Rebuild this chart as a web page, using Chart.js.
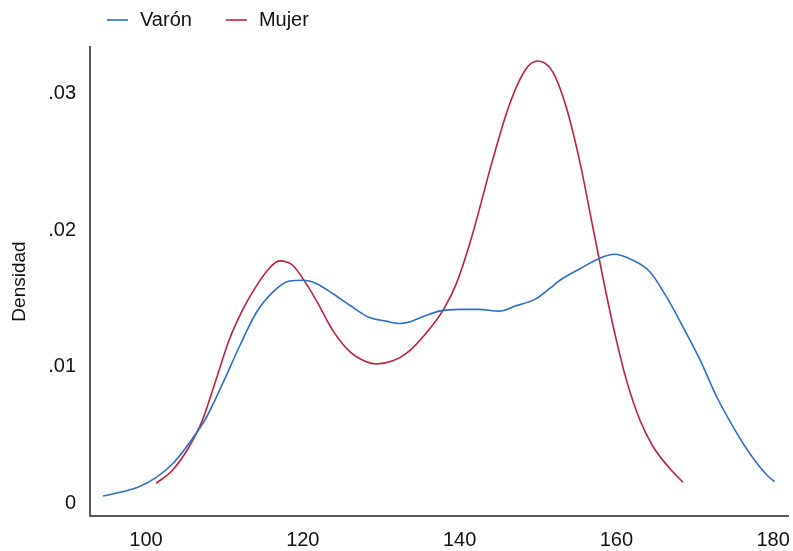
<!DOCTYPE html>
<html>
<head>
<meta charset="utf-8">
<script src="https://cdn.jsdelivr.net/npm/chart.js@4"></script>
<style>
  html, body { margin: 0; padding: 0; background: #fff; }
  #wrap { width: 793px; height: 551px; position: relative; }
</style>
</head>
<body>
<div id="wrap"><canvas id="densidad"></canvas></div>
<script>
// Estimaciones de densidad por sexo
const varonX = [94.5, 97.0, 99.1, 101.3, 103.4, 105.5, 107.7, 109.8, 111.9, 114.0, 116.2, 118.3, 120.0, 121.7, 123.8, 126.0, 128.5, 130.6, 132.3, 133.6, 135.3, 137.4, 140.0, 142.5, 145.0, 147.2, 149.6, 151.5, 152.8, 155.4, 157.9, 159.7, 162.1, 164.3, 166.4, 168.5, 170.7, 172.8, 174.9, 177.0, 179.2, 180.2];
const varonY = [.00053, .00085, .00121, .0019, .0029, .0044, .0063, .0088, .01146, .0139, .01548, .01628, .01633, .0161, .01536, .0145, .0136, .01334, .01317, .01328, .01365, .01407, .0142, .0142, .01407, .01446, .01493, .01573, .01633, .01719, .01795, .01823, .0178, .01694, .01511, .01292, .01048, .0078, .0056, .00366, .00207, .00158];

const mujerX = [101.3, 103.4, 105.5, 107.2, 108.9, 110.6, 112.3, 114.0, 115.7, 117.0, 118.7, 120.4, 121.7, 123.8, 126.0, 128.1, 129.4, 131.5, 133.2, 135.7, 137.9, 139.6, 141.5, 144.2, 146.4, 148.5, 150.0, 151.9, 153.6, 155.3, 157.0, 158.7, 160.0, 161.3, 163.0, 164.7, 166.8, 168.5];
const mujerY = [.00146, .00244, .00414, .0061, .009, .01195, .01414, .01585, .01719, .01775, .01743, .0161, .01487, .01268, .0111, .01036, .0102, .01043, .01097, .01244, .01414, .0161, .0194, .02511, .02926, .03182, .03238, .03157, .02901, .02511, .02023, .01536, .01195, .009, .0061, .00414, .00256, .00154];

const xTicks = [100, 120, 140, 160, 180];
const yTicks = [0, 0.01, 0.02, 0.03];

const FONT = '"Liberation Sans", Arial, sans-serif';
const BLUE = '#2c6ec6';
const RED = '#bf1f38';

const toPoints = (xs, ys) => xs.map((x, i) => ({ x, y: ys[i] }));

// leyenda horizontal arriba: línea corta + texto
const topLegend = {
  id: 'topLegend',
  afterDraw(chart) {
    const ctx = chart.ctx;
    let x = 107;
    const y = 20;
    ctx.save();
    ctx.font = '20px ' + FONT;
    ctx.textBaseline = 'middle';
    ctx.fillStyle = '#111';
    chart.data.datasets.forEach(ds => {
      ctx.strokeStyle = ds.borderColor;
      ctx.lineWidth = 1.6;
      ctx.beginPath();
      ctx.moveTo(x, y);
      ctx.lineTo(x + 21, y);
      ctx.stroke();
      x += 33;
      ctx.fillText(ds.label, x, y);
      x += ctx.measureText(ds.label).width + 34;
    });
    ctx.restore();
  }
};

new Chart(document.getElementById('densidad'), {
  type: 'line',
  data: {
    datasets: [
      { label: 'Varón', data: toPoints(varonX, varonY), borderColor: BLUE },
      { label: 'Mujer', data: toPoints(mujerX, mujerY), borderColor: RED }
    ]
  },
  options: {
    responsive: true,
    maintainAspectRatio: false,
    animation: false,
    layout: { padding: { top: 47, right: 5, left: 0, bottom: 0 } },
    elements: {
      line: { borderWidth: 1.6, cubicInterpolationMode: 'monotone', fill: false },
      point: { radius: 0 }
    },
    plugins: {
      legend: { display: false },
      tooltip: { enabled: false }
    },
    scales: {
      x: {
        type: 'linear',
        min: 92.85,
        max: 181.9,
        grid: { display: false, drawTicks: false },
        border: { display: true, color: '#5a5a5a', width: 2 },
        ticks: { color: '#111', font: { family: FONT, size: 20 }, padding: 12, maxRotation: 0 },
        afterBuildTicks: s => { s.ticks = xTicks.map(v => ({ value: v })); },
        afterFit: s => {
          s.height = 35;
          // el "180" puede salirse un poco por la derecha
          s.paddingLeft = 0;
          s.paddingRight = 0;
        }
      },
      y: {
        min: -0.00093,
        max: 0.03341,
        grid: { display: false, drawTicks: false },
        border: { display: true, color: '#5a5a5a', width: 2 },
        title: { display: true, text: 'Densidad', color: '#111', font: { family: FONT, size: 19 }, padding: { top: 8, bottom: 0 } },
        ticks: {
          color: '#111',
          font: { family: FONT, size: 20 },
          padding: 14,
          callback: v => v === 0 ? '0' : String(Number(v.toFixed(2))).replace(/^0/, '')
        },
        afterBuildTicks: s => { s.ticks = yTicks.map(v => ({ value: v })); },
        afterFit: s => { s.width = 90; }
      }
    }
  },
  plugins: [topLegend]
});
</script>
</body>
</html>
